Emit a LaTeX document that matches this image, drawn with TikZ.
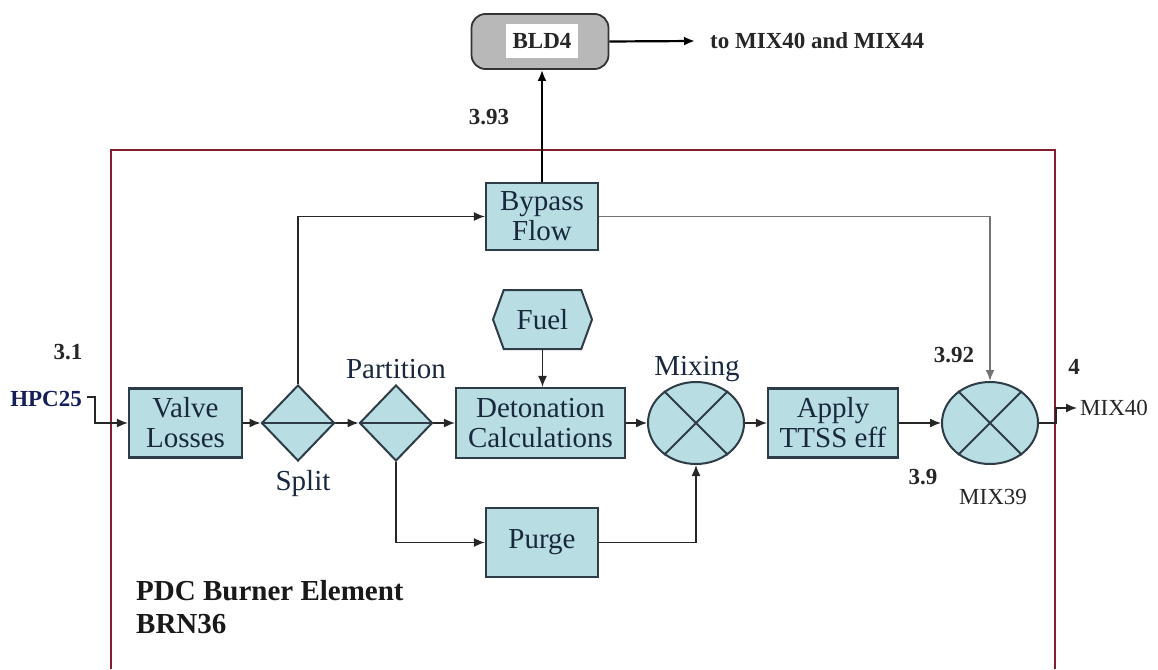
\documentclass[tikz,border=0pt]{standalone}
\usepackage{fontspec}
\setmainfont{Liberation Serif}
\usetikzlibrary{shapes.geometric,shapes.symbols,arrows.meta}
\definecolor{boxfill}{RGB}{184,222,228}
\definecolor{boxdraw}{RGB}{45,60,70}
\definecolor{txt}{RGB}{25,40,60}
\definecolor{framecol}{RGB}{130,30,45}
\definecolor{hpccol}{RGB}{20,30,90}
\begin{document}
\begin{tikzpicture}[x=1pt,y=-1pt,
  blk/.style={draw=boxdraw,fill=boxfill,line width=2.2pt,text=txt,align=center,
    font=\fontsize{29}{30}\selectfont,inner sep=0pt},
  dia/.style={diamond,draw=boxdraw,fill=boxfill,line width=2pt,inner sep=0pt,
    minimum width=73pt,minimum height=76pt},
  mixer/.style={ellipse,draw=boxdraw,fill=boxfill,line width=2pt,inner sep=0pt,
    minimum width=96pt,minimum height=82pt},
  conn/.style={line width=1.4pt,draw=black!85,-{Latex[length=11pt,width=9pt]}},
  lbl/.style={font=\fontsize{23}{24}\selectfont\bfseries,text=black!85,inner sep=0pt},
  captext/.style={font=\fontsize{29}{30}\selectfont,text=txt,inner sep=0pt},
  small/.style={font=\fontsize{23}{24}\selectfont,text=black!85,inner sep=0pt}
]
\useasboundingbox (0,0) rectangle (1158,669);
% frame
\draw[framecol,line width=1.6pt] (111,669) -- (111,150) -- (1055,150) -- (1055,669);

% BLD4
\node[draw=black!80,fill=black!28,line width=1.8pt,rounded corners=14pt,
  minimum width=137pt,minimum height=55pt,inner sep=0pt] (bld) at (540,41.5) {};
\node[fill=white,minimum width=72pt,minimum height=34pt,inner sep=0pt,
  font=\fontsize{23}{24}\selectfont\bfseries,text=black!85] (bldt) at (542,41) {BLD4};
\node[lbl,anchor=west] (tomix) at (710,41) {to MIX40 and MIX44};
\draw[conn,line width=2.2pt,draw=black] (bld.east) -- ([xshift=-15pt]tomix.west);
\node[lbl] (l393) at (489,117) {3.93};

% blocks
\node[blk,minimum width=113pt,minimum height=69pt] (valve) at (185.5,423) {Valve\\Losses};
\node[dia] (split) at (298,423) {};
\node[dia] (part) at (396,423) {};
\node[blk,minimum width=169pt,minimum height=70pt] (det) at (540.5,423) {Detonation\\Calculations};
\node[blk,minimum width=112pt,minimum height=67pt] (bypass) at (542,216.5) {Bypass\\Flow};
\node[blk,minimum width=112pt,minimum height=69pt] (purge) at (542,542.5) {Purge};
\node[blk,minimum width=130pt,minimum height=69pt] (apply) at (833,423) {Apply\\TTSS eff};
\node[signal,signal to=east and west,signal pointer angle=140,draw=boxdraw,fill=boxfill,
  line width=2pt,text=txt,font=\fontsize{29}{30}\selectfont,inner sep=0pt,
  minimum width=99pt,minimum height=59pt] (fuel) at (542.5,319.5) {Fuel};
\node[mixer] (mixing) at (696,423) {};
\node[mixer] (mix39) at (990,423) {};

% crosses and diamond lines
\draw[boxdraw,line width=2pt] (mixing.45) -- (mixing.225) (mixing.135) -- (mixing.315);
\draw[boxdraw,line width=2pt] (mix39.45) -- (mix39.225) (mix39.135) -- (mix39.315);
\draw[boxdraw,line width=2pt] (split.west) -- (split.east) (part.west) -- (part.east);

% captions
\node[captext] (cpart) at (396,369) {Partition};
\node[captext] (csplit) at (303,484) {Split};
\node[captext] (cmix) at (697,369) {Mixing};

% labels
\node[small,anchor=east,text=hpccol,font=\fontsize{23}{24}\selectfont\bfseries] (hpc) at (82,399) {HPC25};
\node[lbl] (l31) at (68,352) {3.1};
\node[lbl] (l392) at (954,355) {3.92};
\node[lbl] (l39) at (923,477) {3.9};
\node[small] (m39) at (993,497) {MIX39};
\node[lbl] (l4) at (1074,367) {4};
\node[small,anchor=west] (mix40) at (1080,408) {MIX40};
\node[font=\fontsize{29}{33}\selectfont\bfseries,text=black!90,align=left,anchor=north west,inner sep=0pt]
  (title) at (136,580) {PDC Burner Element\\BRN36};

% connectors
\draw[conn] (hpc.east) ++(5,-2) -- ++(8,0) |- (valve.west);
\draw[conn] (valve.east) -- (split.west);
\draw[conn] (split.east) -- (part.west);
\draw[conn] (part.east) -- (det.west);
\draw[conn] (det.east) -- (mixing.west);
\draw[conn] (mixing.east) -- (apply.west);
\draw[conn] (apply.east) -- (mix39.west);
\draw[conn] (fuel.south) -- (fuel.south |- det.north);
\draw[conn] (split.north) |- (bypass.west);
\draw[conn] (part.south) |- (purge.west);
\draw[conn] (purge.east) -| (mixing.south);
\draw[conn,line width=1.8pt,draw=black!55] (bypass.east) -| (mix39.north);
\draw[conn,line width=2.6pt,draw=black] (bypass.north) -- (bypass.north |- bld.south);
\draw[conn] (mix39.east) -- ++(17,0) |- ([xshift=-3pt]mix40.west);
\end{tikzpicture}
\end{document}
